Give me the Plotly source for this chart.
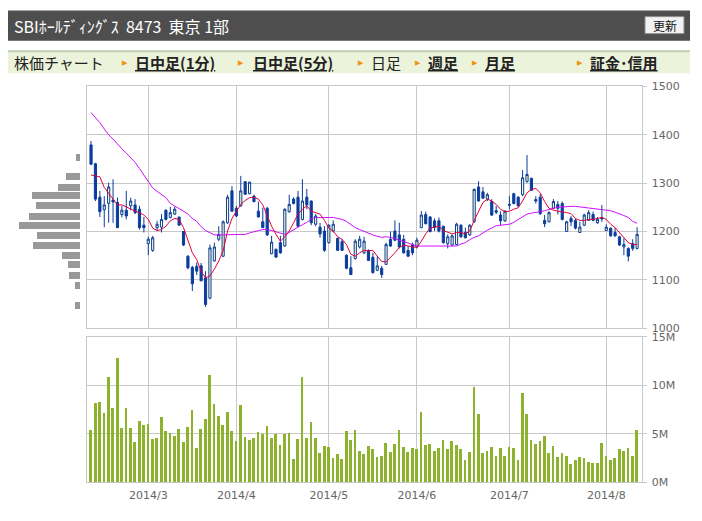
import plotly.graph_objects as go
import pandas as pd

W, H = 702, 521

# ---------------- data ----------------
holidays = ["2014-03-21", "2014-04-29", "2014-05-05", "2014-05-06", "2014-07-21"]
dates = [d for d in pd.bdate_range("2014-02-12", "2014-08-12") if d.strftime("%Y-%m-%d") not in holidays]

opens = [1379, 1340, 1271, 1245, 1258, 1265, 1260, 1235, 1244, 1253, 1255, 1246, 1213, 1175, 1161, 1208, 1209, 1244, 1229, 1236,
         1230, 1200, 1149, 1126, 1128, 1129, 1104, 1062, 1139, 1184, 1149, 1218, 1284, 1248, 1253, 1303, 1278, 1273, 1242, 1220,
         1248, 1154, 1163, 1177, 1170, 1241, 1267, 1271, 1225, 1271, 1263, 1215, 1209, 1201, 1177, 1201, 1186, 1179, 1151, 1125,
         1144, 1168, 1156, 1161, 1147, 1120, 1124, 1132, 1184, 1201, 1193, 1184, 1161, 1173, 1168, 1208, 1235, 1230, 1222, 1222,
         1211, 1175, 1172, 1173, 1213, 1198, 1193, 1220, 1292, 1282, 1267, 1262, 1243, 1234, 1222, 1254, 1278, 1271, 1276, 1303,
         1310, 1266, 1271, 1223, 1220, 1248, 1256, 1258, 1200, 1227, 1223, 1198, 1213, 1223, 1235, 1218, 1229, 1202, 1207, 1198,
         1189, 1168, 1165, 1175, 1165]
highs = [1387, 1342, 1284, 1273, 1301, 1308, 1270, 1253, 1284, 1270, 1267, 1253, 1230, 1189, 1191, 1222, 1236, 1246, 1251, 1251,
         1230, 1201, 1151, 1129, 1136, 1135, 1118, 1173, 1177, 1211, 1223, 1276, 1294, 1253, 1315, 1304, 1303, 1276, 1262, 1249,
         1251, 1191, 1165, 1191, 1248, 1276, 1271, 1284, 1308, 1288, 1264, 1236, 1218, 1211, 1215, 1223, 1187, 1184, 1153, 1149,
         1184, 1191, 1189, 1163, 1156, 1149, 1129, 1177, 1200, 1223, 1218, 1193, 1170, 1177, 1187, 1242, 1241, 1232, 1227, 1229,
         1211, 1194, 1194, 1218, 1215, 1208, 1215, 1289, 1304, 1292, 1280, 1267, 1253, 1242, 1244, 1273, 1280, 1273, 1327, 1358,
         1311, 1273, 1277, 1234, 1242, 1267, 1263, 1262, 1222, 1232, 1227, 1220, 1237, 1244, 1241, 1230, 1255, 1215, 1208, 1208,
         1191, 1186, 1167, 1184, 1209]
lows = [1338, 1263, 1230, 1209, 1218, 1218, 1207, 1229, 1225, 1244, 1236, 1204, 1198, 1151, 1158, 1201, 1198, 1223, 1227, 1234,
        1213, 1170, 1122, 1077, 1110, 1098, 1044, 1060, 1138, 1180, 1147, 1216, 1241, 1230, 1251, 1276, 1277, 1260, 1229, 1207,
        1191, 1153, 1146, 1154, 1168, 1239, 1256, 1209, 1223, 1246, 1213, 1211, 1187, 1158, 1175, 1198, 1160, 1160, 1122, 1110,
        1142, 1165, 1153, 1139, 1113, 1118, 1104, 1131, 1168, 1180, 1165, 1154, 1147, 1151, 1165, 1207, 1215, 1198, 1201, 1198,
        1175, 1165, 1170, 1172, 1187, 1186, 1191, 1218, 1262, 1267, 1263, 1232, 1236, 1213, 1220, 1246, 1256, 1251, 1273, 1301,
        1284, 1258, 1234, 1209, 1219, 1246, 1235, 1223, 1200, 1211, 1204, 1198, 1211, 1222, 1222, 1216, 1220, 1201, 1189, 1189,
        1170, 1151, 1138, 1160, 1163]
closes = [1339, 1267, 1241, 1255, 1292, 1261, 1208, 1244, 1232, 1263, 1239, 1208, 1208, 1184, 1187, 1215, 1225, 1225, 1239, 1246,
          1213, 1172, 1125, 1092, 1118, 1098, 1049, 1166, 1168, 1194, 1220, 1271, 1242, 1232, 1284, 1277, 1302, 1262, 1230, 1208,
          1193, 1178, 1147, 1156, 1246, 1256, 1258, 1211, 1263, 1255, 1218, 1232, 1195, 1161, 1213, 1215, 1161, 1161, 1124, 1111,
          1180, 1184, 1180, 1140, 1115, 1129, 1111, 1173, 1170, 1182, 1168, 1156, 1149, 1156, 1182, 1234, 1216, 1200, 1208, 1201,
          1177, 1189, 1191, 1215, 1189, 1187, 1213, 1287, 1263, 1269, 1276, 1234, 1240, 1222, 1242, 1256, 1258, 1253, 1311, 1318,
          1285, 1263, 1237, 1216, 1239, 1262, 1248, 1225, 1220, 1220, 1207, 1209, 1234, 1239, 1223, 1225, 1226, 1209, 1191, 1191,
          1172, 1173, 1149, 1165, 1194]

ma_short = [1317, 1315, 1313, 1291, 1280, 1267, 1255, 1255, 1251, 1246, 1242, 1239, 1234, 1225, 1207, 1202, 1204, 1211, 1222, 1227,
            1225, 1208, 1182, 1156, 1142, 1118, 1104, 1108, 1122, 1139, 1160, 1201, 1227, 1242, 1256, 1264, 1270, 1271, 1267, 1255,
            1232, 1211, 1194, 1180, 1189, 1201, 1218, 1236, 1246, 1253, 1242, 1239, 1236, 1223, 1207, 1201, 1189, 1184, 1173, 1153,
            1149, 1156, 1161, 1160, 1161, 1149, 1138, 1137, 1146, 1156, 1167, 1172, 1170, 1168, 1167, 1180, 1195, 1207, 1209, 1211,
            1202, 1198, 1195, 1198, 1198, 1195, 1201, 1223, 1242, 1260, 1267, 1263, 1256, 1246, 1241, 1242, 1246, 1249, 1263, 1280,
            1287, 1289, 1280, 1262, 1248, 1244, 1242, 1241, 1239, 1237, 1227, 1223, 1223, 1225, 1225, 1227, 1229, 1225, 1215, 1208,
            1198, 1187, 1177, 1173, 1173]
ma_long = [1446, 1436, 1425, 1412, 1400, 1391, 1380, 1371, 1362, 1352, 1343, 1330, 1316, 1304, 1290, 1283, 1276, 1270, 1258, 1253,
           1248, 1242, 1236, 1227, 1221, 1210, 1202, 1197, 1193, 1193, 1193, 1193, 1193, 1193, 1194, 1194, 1197, 1200, 1202, 1204,
           1204, 1202, 1199, 1196, 1194, 1198, 1204, 1209, 1214, 1219, 1226, 1229, 1229, 1229, 1229, 1229, 1227, 1225, 1221, 1214,
           1208, 1204, 1200, 1196, 1193, 1190, 1188, 1189, 1188, 1185, 1182, 1179, 1175, 1172, 1170, 1170, 1170, 1170, 1170, 1170,
           1170, 1170, 1170, 1170, 1174, 1177, 1183, 1188, 1191, 1197, 1203, 1207, 1212, 1213, 1214, 1215, 1219, 1225, 1230, 1236,
           1238, 1239, 1241, 1243, 1246, 1248, 1250, 1251, 1252, 1252, 1252, 1251, 1250, 1248, 1247, 1246, 1245, 1244, 1243, 1240,
           1237, 1233, 1229, 1221, 1217]

volume_m = [5.36, 8.18, 8.28, 7.15, 10.86, 7.66, 12.82, 5.6, 7.66, 5.6, 4.16, 6.32, 5.88, 6.01, 4.47, 4.57, 6.74, 5.26, 5.09, 4.78,
            5.5, 4.16, 5.67, 7.46, 3.54, 5.5, 6.53, 11.07, 8.08, 6.84, 5.91, 7.25, 5.29, 4.23, 7.97, 4.64, 4.36, 4.57, 5.19, 4.98,
            5.77, 4.57, 4.98, 3.81, 4.98, 5.09, 2.41, 4.47, 10.86, 4.57, 6.22, 4.57, 3.02, 3.71, 3.64, 2.51, 2.92, 2.41, 5.29, 4.36,
            5.4, 3.23, 2.92, 3.75, 3.44, 2.61, 2.71, 4.05, 3.1, 3.95, 5.38, 3.64, 3.12, 3.5, 3.4, 7.3, 3.8, 3.9, 3.19, 3.5,
            4.32, 3.4, 4.22, 3.8, 3.4, 2.26, 3.08, 9.86, 7.09, 2.98, 3.19, 3.6, 2.67, 3.5, 2.67, 3.6, 3.5, 2.26, 9.25, 7.09,
            4.32, 3.9, 4.22, 4.73, 2.98, 3.7, 2.57, 2.98, 2.67, 1.85, 2.26, 2.57, 2.47, 2.05, 1.95, 1.95, 4.01, 2.67, 2.26, 2.47,
            3.4, 3.19, 3.5, 2.67, 5.36]

profile_price = [1353, 1312, 1291, 1273, 1252, 1231, 1211, 1190, 1171, 1150, 1130, 1109, 1088, 1047]
profile_volume_m = [5, 17, 26, 58, 53, 61, 73, 52, 56, 22, 14, 13, 6, 6]

price_ticks = [1000, 1100, 1200, 1300, 1400, 1500]
volume_ticks = [0, 5, 10, 15]
volume_labels = ["0M", "5M", "10M", "15M"]

title_text = "SBIﾎｰﾙﾃﾞｨﾝｸﾞｽ\u00a0\u00a08473\u00a0\u00a0東京\u00a01部"
nav_label = "株価チャート"
nav_items = [("日中足(1分)", True), ("日中足(5分)", True), ("日足", False), ("週足", True), ("月足", True), ("証金･信用", True)]

# ---------------- derived ----------------
idx = list(range(len(dates)))
month_idx, month_lbl = [], []
prev = None
for i, d in enumerate(dates):
    if prev is not None and d.month != prev:
        month_idx.append(i)
        month_lbl.append(f"{d.year}/{d.month}")
    prev = d.month
volume = [v * 1e6 for v in volume_m]

# ---------------- styles ----------------
BLUE = "#0b3d9c"
UPFILL = "#fffcc4"
GRID = "#c8c8c8"
TICKC = "#666666"
TFONT = dict(family="DejaVu Sans", size=11, color=TICKC)
JP = "Noto Sans CJK JP"

# vertical calibration of the rendered page
VOFF, VSC = 5.4, 0.974

def px(x):
    return x / W

def py(y):
    return 1 - ((y - VOFF) / VSC) / H

fig = go.Figure()

fig.add_trace(go.Candlestick(
    x=idx, open=opens, high=highs, low=lows, close=closes,
    increasing=dict(line=dict(color=BLUE, width=1), fillcolor=UPFILL),
    decreasing=dict(line=dict(color=BLUE, width=1), fillcolor=BLUE),
    whiskerwidth=0, xaxis="x", yaxis="y", showlegend=False, hoverinfo="skip"))
fig.add_trace(go.Scatter(x=idx, y=ma_long, mode="lines", line=dict(color="#cc11ff", width=1),
                         xaxis="x", yaxis="y", showlegend=False, hoverinfo="skip"))
fig.add_trace(go.Scatter(x=idx, y=ma_short, mode="lines", line=dict(color="#e0003a", width=1),
                         xaxis="x", yaxis="y", showlegend=False, hoverinfo="skip"))
fig.add_trace(go.Bar(x=idx, y=volume, marker=dict(color="#8cb22e", line=dict(width=0)),
                     width=0.62, xaxis="x2", yaxis="y2", showlegend=False, hoverinfo="skip"))
fig.add_trace(go.Bar(y=profile_price, x=profile_volume_m, orientation="h", width=14.5,
                     marker=dict(color="#999999", line=dict(width=0)),
                     xaxis="x3", yaxis="y3", showlegend=False, hoverinfo="skip"))

xr = [-0.85, len(idx) + 0.0]
xdom = [px(87.3), px(641.5)]
ydom_price = [py(327.3), py(85.7)]
common_x = dict(range=xr, domain=xdom, tickvals=month_idx, showgrid=True, gridcolor=GRID, gridwidth=1,
                showline=True, linecolor=GRID, linewidth=1, mirror=True, zeroline=False, fixedrange=True)

fig.update_layout(
    width=W, height=H, margin=dict(l=0, r=0, t=0, b=0),
    paper_bgcolor="white", plot_bgcolor="white", bargap=0,
    xaxis=dict(**common_x, anchor="y", showticklabels=False, ticks="", rangeslider=dict(visible=False)),
    xaxis2=dict(**common_x, anchor="y2", ticktext=month_lbl, ticks="", tickfont=TFONT, ticklabelstandoff=3),
    xaxis3=dict(domain=[0, px(80)], range=[96, 0], anchor="y3", visible=False, fixedrange=True),
    yaxis=dict(domain=ydom_price, range=[1000, 1500], tickvals=price_ticks, side="right", anchor="x",
               showgrid=True, gridcolor=GRID, showline=True, linecolor=GRID, mirror=True, zeroline=False,
               ticks="outside", ticklen=4, tickcolor=GRID, tickfont=TFONT, ticklabelstandoff=3, fixedrange=True),
    yaxis2=dict(domain=[py(481), py(336)], range=[0, 15e6], tickvals=[v * 1e6 for v in volume_ticks],
                ticktext=volume_labels, side="right", anchor="x2",
                showgrid=True, gridcolor=GRID, showline=True, linecolor=GRID, mirror=True, zeroline=False,
                ticks="outside", ticklen=4, tickcolor=GRID, tickfont=TFONT, ticklabelstandoff=3, fixedrange=True),
    yaxis3=dict(domain=ydom_price, range=[1000, 1500], anchor="x3", visible=False, showgrid=False, fixedrange=True),
)

shapes = []
anns = []
# header bar
shapes.append(dict(type="rect", xref="paper", yref="paper", x0=px(8), x1=px(690), y0=py(40), y1=py(10),
                   fillcolor="#4e4e4e", line=dict(width=0), layer="below"))
anns.append(dict(xref="paper", yref="paper", x=px(12), y=py(25.5), xanchor="left", yanchor="middle",
                 text=title_text, showarrow=False,
                 font=dict(family=JP, size=16, color="white")))
# update button
shapes.append(dict(type="rect", xref="paper", yref="paper", x0=px(645), x1=px(684), y0=py(33), y1=py(16),
                   fillcolor="#f2f2f2", line=dict(color="#8a8a8a", width=1), layer="below"))
anns.append(dict(xref="paper", yref="paper", x=px(664.5), y=py(24.5), xanchor="center", yanchor="middle",
                 text="更新", showarrow=False, font=dict(family=JP, size=12, color="#111111")))
# nav bar
shapes.append(dict(type="rect", xref="paper", yref="paper", x0=px(8), x1=px(690), y0=py(72.5), y1=py(51),
                   fillcolor="#ebf3da", line=dict(width=0), layer="below"))
shapes.append(dict(type="line", xref="paper", yref="paper", x0=px(8), x1=px(690), y0=py(50.5), y1=py(50.5),
                   line=dict(color="#c2cdb4", width=2), layer="below"))
anns.append(dict(xref="paper", yref="paper", x=px(12), y=py(62), xanchor="left", yanchor="middle",
                 text=nav_label, showarrow=False, font=dict(family=JP, size=15, color="#222222")))
arrow_x = [125, 241, 361, 418, 475, 580]
text_x = [133, 251, 369, 426, 483, 588]
for (label, link), ax, tx in zip(nav_items, arrow_x, text_x):
    anns.append(dict(xref="paper", yref="paper", x=px(ax), y=py(62), xanchor="center", yanchor="middle",
                     text="▶", showarrow=False, font=dict(family="DejaVu Sans", size=7, color="#f0920c")))
    t = f"<b><u>{label}</u></b>" if link else label
    anns.append(dict(xref="paper", yref="paper", x=px(tx), y=py(62), xanchor="left", yanchor="middle",
                     text=t, showarrow=False, font=dict(family=JP, size=15, color="#222222")))

fig.update_layout(shapes=shapes, annotations=anns)
fig.write_html("out.html", config={"displayModeBar": False},
               post_script="document.body.style.margin='0';document.body.style.padding='0';document.body.style.overflow='hidden';")
